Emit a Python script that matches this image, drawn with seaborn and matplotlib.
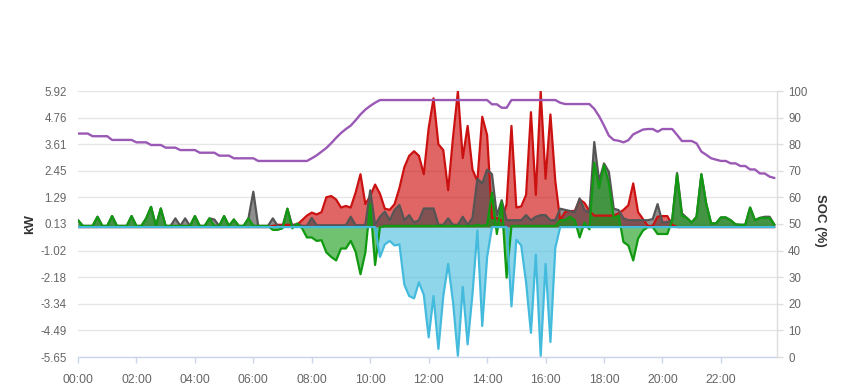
import numpy as np
import matplotlib
matplotlib.use("Agg")
import matplotlib.pyplot as plt
import seaborn as sns

# readings every 10 minutes, one row per hour (00:00 .. 23:50)
red_kw = [
    0, 0, 0, 0, 0, 0,
    0, 0, 0, 0, 0, 0,
    0, 0, 0, 0, 0, 0,
    0, 0, 0, 0, 0, 0,
    0, 0, 0, 0, 0, 0,
    0, 0, 0, 0, 0, 0,
    0, 0, 0, 0, 0.05, 0.1,
    0.1, 0.1, 0.1, 0.1, 0.3, 0.5,
    0.63, 0.55, 0.65, 1.3, 1.35, 1.2,
    0.85, 0.92, 0.85, 1.5, 2.3, 1.0,
    1.35, 1.85, 1.45, 0.8, 0.75, 1.0,
    1.7, 2.6, 3.1, 3.3, 3.1, 2.3,
    4.3, 5.6, 3.6, 3.35, 1.6, 3.9,
    5.9, 3.0, 4.4, 2.5, 2.0, 4.8,
    4.0, 0.4, 0.4, 0.25, 1.0, 4.4,
    0.85, 0.9, 1.4, 5.0, 1.4, 5.9,
    2.1, 4.9, 2.0, 0.3, 0.65, 0.7,
    0.7, 1.2, 1.05, 0.7, 0.5, 0.5,
    0.5, 0.5, 0.5, 0.6, 0.75, 0.95,
    1.9, 0.65, 0.35, 0.05, 0.05, 0.45,
    0.48, 0.48, 0.1, 0, 0, 0,
    0, 0, 0, 0, 0, 0,
    0, 0, 0, 0, 0, 0,
    0, 0, 0, 0, 0, 0,
]

gray_kw = [
    0.3, 0.05, 0.05, 0.05, 0.45, 0.05,
    0.05, 0.48, 0.05, 0.05, 0.05, 0.48,
    0.05, 0.05, 0.38, 0.88, 0.05, 0.81,
    0.05, 0.05, 0.38, 0.05, 0.38, 0.05,
    0.48, 0.05, 0.05, 0.38, 0.33, 0.05,
    0.48, 0.05, 0.33, 0.05, 0.05, 0.38,
    1.54, 0.05, 0.05, 0.05, 0.38, 0.05,
    0.05, 0.8, 0.05, 0.15, 0.05, 0.05,
    0.4, 0.08, 0.08, 0.08, 0.08, 0.08,
    0.08, 0.08, 0.45, 0.08, 0.08, 0.1,
    1.6, 0.1, 0.45, 0.67, 0.3, 0.74,
    0.96, 0.3, 0.52, 0.2, 0.3, 0.81,
    0.81, 0.81, 0.1, 0.1, 0.38, 0.1,
    0.1, 0.45, 0.1, 0.4, 2.1, 1.9,
    2.5, 2.3, 0.5, 1.17, 0.3, 0.3,
    0.3, 0.3, 0.52, 0.3, 0.45, 0.52,
    0.52, 0.3, 0.3, 0.8, 0.75, 0.7,
    0.64, 1.25, 0.74, 0.64, 3.7, 2.0,
    2.77, 2.4, 0.8, 0.74, 0.38, 0.3,
    0.3, 0.3, 0.3, 0.3, 0.35, 1.0,
    0.2, 0.22, 0.3, 2.35, 0.6, 0.4,
    0.2, 0.45, 2.3, 1.0, 0.16, 0.16,
    0.42, 0.42, 0.3, 0.12, 0.1, 0.1,
    0.85, 0.3, 0.4, 0.45, 0.45, 0.1,
]

green_kw = [
    0.3, 0.05, 0.05, 0.05, 0.45, 0.05,
    0.05, 0.48, 0.05, 0.05, 0.05, 0.48,
    0.05, 0.05, 0.38, 0.88, 0.05, 0.81,
    0.05, 0.05, 0.05, 0.05, 0.05, 0.05,
    0.48, 0.05, 0.05, 0.38, 0.05, 0.05,
    0.48, 0.05, 0.33, 0.05, 0.05, 0.38,
    0.05, 0.05, 0.05, 0.05, -0.12, -0.12,
    -0.05, 0.8, -0.05, 0.15, -0.05, -0.45,
    -0.45, -0.6, -0.57, -1.1, -1.3, -1.45,
    -0.93, -0.93, -0.6, -1.07, -2.05, -1.1,
    1.0, -1.65, 0.0, 0.05, 0.05, 0.05,
    0.05, 0.05, 0.05, 0.05, 0.05, 0.05,
    0.05, 0.05, 0.05, 0.05, 0.05, 0.05,
    0.05, 0.05, 0.05, 0.05, 0.1, 0.05,
    0.1, 1.5, -0.3, 1.1, -2.2, 0.05,
    0.05, 0.05, 0.05, 0.05, 0.05, 0.05,
    0.05, 0.05, 0.05, 0.3, 0.3, 0.45,
    0.3, -0.45, 0.2, -0.1, 2.8, 1.7,
    2.7, 1.9, 0.4, 0.5, -0.65, -0.8,
    -1.45, -0.5, -0.15, 0.0, 0.0, -0.3,
    -0.3, -0.3, 0.3, 2.3, 0.5, 0.4,
    0.2, 0.45, 2.3, 1.0, 0.16, 0.16,
    0.42, 0.42, 0.3, 0.12, 0.1, 0.1,
    0.85, 0.3, 0.4, 0.4, 0.4, 0.1,
]

cyan_kw = [
    0, 0, 0, 0, 0, 0,
    0, 0, 0, 0, 0, 0,
    0, 0, 0, 0, 0, 0,
    0, 0, 0, 0, 0, 0,
    0, 0, 0, 0, 0, 0,
    0, 0, 0, 0, 0, 0,
    0, 0, 0, 0, 0, 0,
    0, 0, 0, 0, 0, 0,
    0, 0, 0, 0, 0, 0,
    0, 0, 0, 0, 0, 0,
    0, 0, -1.3, -0.75, -0.6, -0.8,
    -0.75, -2.5, -3.0, -3.1, -2.4, -2.95,
    -4.8, -3.0, -5.3, -3.0, -1.6, -3.25,
    -5.6, -2.6, -5.1, -2.9, -0.15, -4.3,
    -1.3, 0, 0, 0, 0, -3.45,
    -0.55, -0.8, -2.4, -4.6, -1.2, -5.6,
    -1.6, -5.0, -0.9, 0, 0, 0,
    0, 0, 0, 0, 0, 0,
    0, 0, 0, 0, 0, 0,
    0, 0, 0, 0, 0, 0,
    0, 0, 0, 0, 0, 0,
    0, 0, 0, 0, 0, 0,
    0, 0, 0, 0, 0, 0,
    0, 0, 0, 0, 0, 0,
]

soc_pct = [
    84, 84, 84, 83, 83, 83,
    83, 81.6, 81.6, 81.6, 81.6, 81.6,
    80.7, 80.7, 80.7, 79.7, 79.7, 79.7,
    78.7, 78.7, 78.7, 77.8, 77.8, 77.8,
    77.8, 76.8, 76.8, 76.8, 76.8, 75.7,
    75.7, 75.7, 74.7, 74.7, 74.7, 74.7,
    74.7, 73.7, 73.7, 73.7, 73.7, 73.7,
    73.7, 73.7, 73.7, 73.7, 73.7, 73.7,
    74.7, 75.8, 77.2, 78.6, 80.4, 82.4,
    84.2, 85.7, 87.0, 89.0, 91.2, 93.0,
    94.4, 95.6, 96.6, 96.6, 96.6, 96.6,
    96.6, 96.6, 96.6, 96.6, 96.6, 96.6,
    96.6, 96.6, 96.6, 96.6, 96.6, 96.6,
    96.6, 96.6, 96.6, 96.6, 96.6, 96.6,
    96.6, 95.0, 95.0, 93.7, 93.7, 96.6,
    96.6, 96.6, 96.6, 96.6, 96.6, 96.6,
    96.6, 96.6, 96.6, 95.6, 95.1, 95.1,
    95.1, 95.1, 95.1, 95.1, 93.3, 90.5,
    87.0, 83.2, 81.6, 81.3, 80.7, 81.5,
    83.7, 84.6, 85.5, 85.7, 85.7, 84.7,
    85.7, 85.7, 85.7, 83.5, 81.2, 81.2,
    81.2, 80.3, 77.2, 76.0, 74.7, 74.2,
    73.7, 73.7, 72.8, 72.8, 71.8, 71.8,
    70.5, 70.5, 69.0, 69.0, 67.8, 67.3,
]

kw_tick_labels = ["-5.65", "-4.49", "-3.34", "-2.18", "-1.02", "0.13",
                  "1.29", "2.45", "3.61", "4.76", "5.92"]
soc_ticks = [0, 10, 20, 30, 40, 50, 60, 70, 80, 90, 100]
hour_ticks = [0, 2, 4, 6, 8, 10, 12, 14, 16, 18, 20, 22]

hours = np.arange(len(red_kw)) / 6.0

sns.set_theme(style="white")
plt.rcParams["font.family"] = ["Liberation Sans", "DejaVu Sans"]

fig = plt.figure(figsize=(8.49, 3.9), dpi=100)
ax = fig.add_axes([78 / 849, 33 / 390, 699 / 849, 266 / 390])

# area series, drawn in this order
series = [
    (red_kw, "#cc0000", "#cc1111"),
    (gray_kw, "#444444", "#555555"),
    (green_kw, "#119911", "#119911"),
    (cyan_kw, "#44bbdd", "#44bbdd"),
]
for vals, fill_col, line_col in series:
    ax.fill_between(hours, 0, vals, color=fill_col, alpha=0.6, lw=0)
    sns.lineplot(x=hours, y=vals, color=line_col, lw=1.6, ax=ax,
                 estimator=None, sort=False, legend=False)

ax.set_xlim(0, 23.92)
ax.set_ylim(-5.65, 5.92)
ax.set_yticks(np.linspace(-5.65, 5.92, 11))
ax.set_yticklabels(kw_tick_labels)
ax.set_xticks(hour_ticks)
ax.set_xticklabels(["%02d:00" % h for h in hour_ticks])
ax.yaxis.grid(True, color="#e6e6e6", lw=1)
ax.xaxis.grid(False)
ax.set_axisbelow(True)
for side in ["left", "top", "right"]:
    ax.spines[side].set_visible(False)
ax.spines["bottom"].set_color("#ccd6eb")
ax.spines["bottom"].set_linewidth(1)
ax.tick_params(axis="x", bottom=True, length=4, width=1, color="#ccd6eb",
               labelcolor="#666666", labelsize=8.8, pad=8)
ax.tick_params(axis="y", left=False, length=0, labelcolor="#666666",
               labelsize=8.3, pad=8)
ax.set_xlabel("")
ax.set_ylabel("")

ax2 = ax.twinx()
sns.lineplot(x=hours, y=soc_pct, color="#9b59b6", lw=1.7, ax=ax2,
             estimator=None, sort=False, legend=False)
ax2.set_ylim(0, 100)
ax2.set_yticks(soc_ticks)
ax2.set_yticklabels([str(t) for t in soc_ticks])
ax2.set_ylabel("")
for side in ["left", "top", "bottom"]:
    ax2.spines[side].set_visible(False)
ax2.spines["right"].set_color("#dddddd")
ax2.spines["right"].set_linewidth(1)
ax2.tick_params(axis="y", right=True, length=4, width=1, color="#dddddd",
                labelcolor="#666666", labelsize=8.3, pad=4)
ax2.grid(False)

fig.text(30 / 849, 1 - 224 / 390, "kW", rotation=90, ha="center", va="center",
         fontsize=9.5, fontweight="bold", color="#333333")
fig.text(820 / 849, 1 - 220 / 390, "SOC (%)", rotation=270, ha="center",
         va="center", fontsize=9.5, fontweight="bold", color="#333333")

fig.savefig("out.png", dpi=100)
